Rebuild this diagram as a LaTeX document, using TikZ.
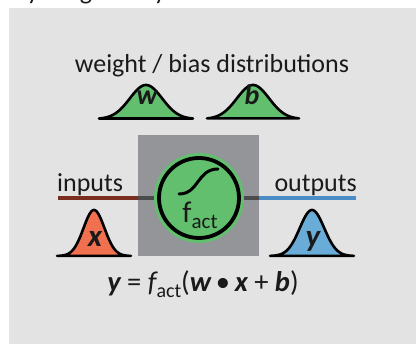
\documentclass[tikz,border=0pt]{standalone}
\usepackage{fontspec}
\setmainfont{Carlito}
\definecolor{panel}{HTML}{E3E3E3}
\definecolor{boxgray}{HTML}{949599}
\definecolor{actgreen}{HTML}{62BF6E}
\definecolor{inorange}{HTML}{F0704F}
\definecolor{outblue}{HTML}{6AACD8}
\definecolor{lineblue}{HTML}{4A8CC4}
\definecolor{linebrown}{HTML}{7A2E1E}
\definecolor{linedark}{HTML}{4B4B4D}
\definecolor{ink}{HTML}{1A1A1A}
\newcommand{\bellcurve}[6]{% cx, base y, half width, height, 2 sigma^2, fill
  \draw[bell, fill=#6] plot[domain=-#3:#3, samples=70, smooth] ({#1+\x},{#2-#4*exp(-\x*\x/#5)}) -- cycle;}
\tikzset{
  bell/.style={line width=2.6pt, line join=round, draw=black},
  lbl/.style={font=\fontsize{26}{26}\selectfont, text=ink, inner sep=0pt},
  dist/.style={font=\fontsize{28}{28}\selectfont\bfseries\itshape, text=ink, inner sep=0pt, anchor=base},
  wire/.style={line width=4pt},
}
\begin{document}
\begin{tikzpicture}[x=1pt, y=-1pt]
\useasboundingbox (0,0) rectangle (416,344);
\clip (0,0) rectangle (416,344);
% clipped caption line above the panel
\node[lbl, anchor=base] (c1) at (33,0) {y};
\node[lbl, anchor=base] (c2) at (86,0) {g};
\node[lbl, anchor=base] (c3) at (160,0) {y};
% panel
\fill[panel] (9,8) rectangle (416,344);
% title
\node[lbl, anchor=base] (title) at (212,73) {weight / bias distributions};
% weight and bias bells
\bellcurve{146}{119}{47}{34}{520}{actgreen}
\bellcurve{253}{119}{46}{34}{520}{actgreen}
\node[dist] (w) at (147,105) {w};
\node[dist] (b) at (252,105) {b};
% activation box
\node[fill=boxgray, minimum width=121pt, minimum height=121pt, inner sep=0pt] (fbox) at (198.5,195.5) {};
\coordinate (inL) at (58,198);
\coordinate (boxW) at (138,198);
\coordinate (boxE) at (259,198);
\coordinate (outR) at (356,198);
\node[circle, fill=actgreen, minimum size=90pt, inner sep=0pt] (actbg) at (199,198) {};
\draw[wire, linebrown] (inL) -- (boxW);
\draw[wire, linedark] (boxW) -- (actbg.west);
\draw[wire, linedark] (actbg.east) -- (boxE);
\draw[wire, lineblue] (boxE) -- (outR);
\node[circle, draw=black, line width=3.8pt, minimum size=80pt, inner sep=0pt] (act) at (actbg.center) {};
\draw[line width=3pt, line cap=round] (179,194) .. controls (199,194) and (197,169) .. (218,169);
\node[lbl, anchor=base, font=\fontsize{30}{30}\selectfont] (fact) at (200,223) {f\raisebox{-0.17em}{\fontsize{21}{21}\selectfont act}};
% labels
\node[lbl, anchor=base west] (inputs) at (57,192) {inputs};
\node[lbl, anchor=base east] (outputs) at (357,192) {outputs};
% input / output bells
\bellcurve{94}{256}{37}{46}{220}{inorange}
\bellcurve{312}{256}{42}{46}{300}{outblue}
\node[dist, font=\fontsize{31}{31}\selectfont\bfseries\itshape] (x) at (95,247) {x};
\node[dist, font=\fontsize{31}{31}\selectfont\bfseries\itshape] (y) at (313,247) {y};
% equation
\node[lbl, anchor=base, font=\fontsize{28.5}{28.5}\selectfont] (eq) at (203,292) {{\bfseries\itshape y} = {\itshape f}\raisebox{-0.2em}{\fontsize{20}{20}\selectfont act}({\bfseries\itshape w}\,•\,{\bfseries\itshape x} + {\bfseries\itshape b})};
\end{tikzpicture}
\end{document}
